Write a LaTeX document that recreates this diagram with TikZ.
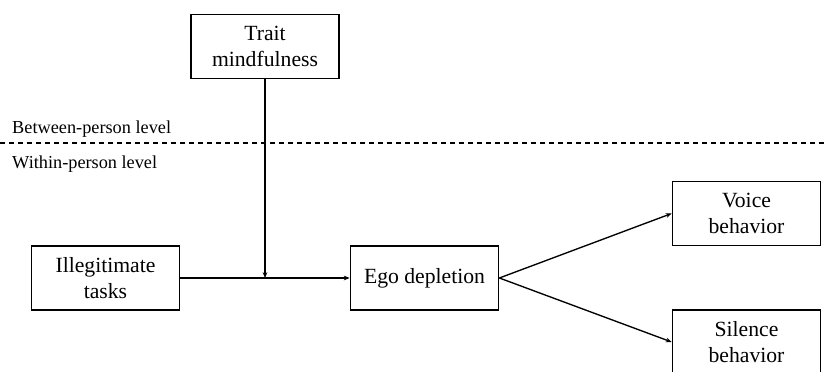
\documentclass[tikz,border=0pt]{standalone}
\usepackage{fontspec}
\setmainfont{Liberation Serif}
\usetikzlibrary{arrows.meta}
\tikzset{
  box/.style={draw=black,line width=1.5pt,fill=white,minimum width=4.44cm,minimum height=1.92cm,
    align=center,inner sep=2pt,font=\fontsize{18.5}{22}\selectfont},
  arr/.style={draw=black,line width=1.15pt,-{Stealth[length=5pt,width=4pt]}},
  lvl/.style={anchor=base west,inner sep=0pt,font=\fontsize{15.6}{18}\selectfont},
  sep/.style={draw=black,line width=0.9pt,dash pattern=on 0.15cm off 0.12cm},
}

\begin{document}
\begin{tikzpicture}[x=0.03cm,y=-0.03cm]
\useasboundingbox (0,0) rectangle (827,372);
\clip (0,0) rectangle (827,372);
\node[box] (trait) at (265,46.5) {Trait\\mindfulness};
\node[box] (ill) at (105.5,278) {Illegitimate\\tasks};
\node[box] (ego) at (424.5,278) {Ego depletion};
\node[box] (voice) at (746.5,213.5) {Voice\\behavior};
\node[box] (silence) at (746.5,342) {Silence\\behavior};
\coordinate (left) at (0,143);
\coordinate (right) at (827,143);
\draw[sep] (left) -- (right);
\node[lvl] (between) at (12,134) {Between-person level};
\node[lvl] (within) at (12,169) {Within-person level};
\coordinate (mod) at (trait.south |- ill.east);
\draw[arr] (ill) -- (ego);
\draw[arr] (trait) -- (mod);
\draw[arr] (ego.east) -- (voice.west);
\draw[arr] (ego.east) -- (silence.west);
\end{tikzpicture}
\end{document}
